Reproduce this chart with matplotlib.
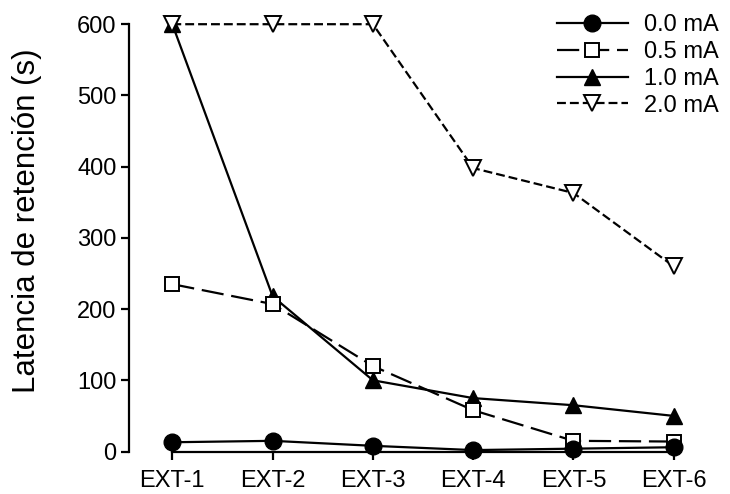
import matplotlib.pyplot as plt
import numpy as np

plt.rcParams['font.family'] = ['Liberation Sans', 'DejaVu Sans']

sessions = ["EXT-1", "EXT-2", "EXT-3", "EXT-4", "EXT-5", "EXT-6"]
labels = ["0.0 mA", "0.5 mA", "1.0 mA", "2.0 mA"]
ma_00 = [13, 15, 8, 2, 4, 6]
ma_05 = [235, 207, 120, 58, 15, 14]
ma_10 = [600, 218, 100, 75, 65, 50]
ma_20 = [600, 600, 600, 398, 363, 260]

x = np.arange(len(sessions))

fig = plt.figure(figsize=(7.3, 4.94), dpi=100)
ax = fig.add_axes([0.177, 0.086, 0.805, 0.865])

lw = 1.6
ax.plot(x, ma_00, color="black", lw=lw, marker="o", ms=12,
        mfc="black", mec="black", label=labels[0], clip_on=False, zorder=5)
ax.plot(x, ma_05, color="black", lw=lw, ls=(0, (10, 3.5)), marker="s", ms=10,
        mfc="white", mec="black", mew=1.4, label=labels[1], clip_on=False, zorder=4)
ax.plot(x, ma_10, color="black", lw=lw, marker="^", ms=11.5,
        mfc="black", mec="black", label=labels[2], clip_on=False, zorder=3)
ax.plot(x, ma_20, color="black", lw=lw, ls=(0, (4, 1.8)), marker="v", ms=11.5,
        mfc="white", mec="black", mew=1.4, label=labels[3], clip_on=False, zorder=3)

ax.set_xlim(-0.43, 5.43)
ax.set_ylim(0, 600)
ax.set_yticks(range(0, 601, 100))
ax.set_xticks(x)
ax.set_xticklabels(sessions)

for s in ["top", "right"]:
    ax.spines[s].set_visible(False)
ax.spines["bottom"].set_bounds(0, 5)
ax.spines["left"].set_linewidth(1.6)
ax.spines["bottom"].set_linewidth(1.6)
ax.tick_params(axis="both", direction="out", length=6, width=1.6,
               labelsize=17, colors="black")
ax.tick_params(axis="x", pad=7)
ax.tick_params(axis="y", pad=3)

ax.set_ylabel("Latencia de retención (s)", fontsize=22.5)
ax.yaxis.set_label_coords(-0.148, 0.54)

ax.legend(loc="upper right", frameon=False, fontsize=17, handlelength=3.0,
          handletextpad=0.7, borderaxespad=0.0, labelspacing=0.2,
          bbox_to_anchor=(1.02, 1.045))

fig.savefig("out.png", dpi=100)
